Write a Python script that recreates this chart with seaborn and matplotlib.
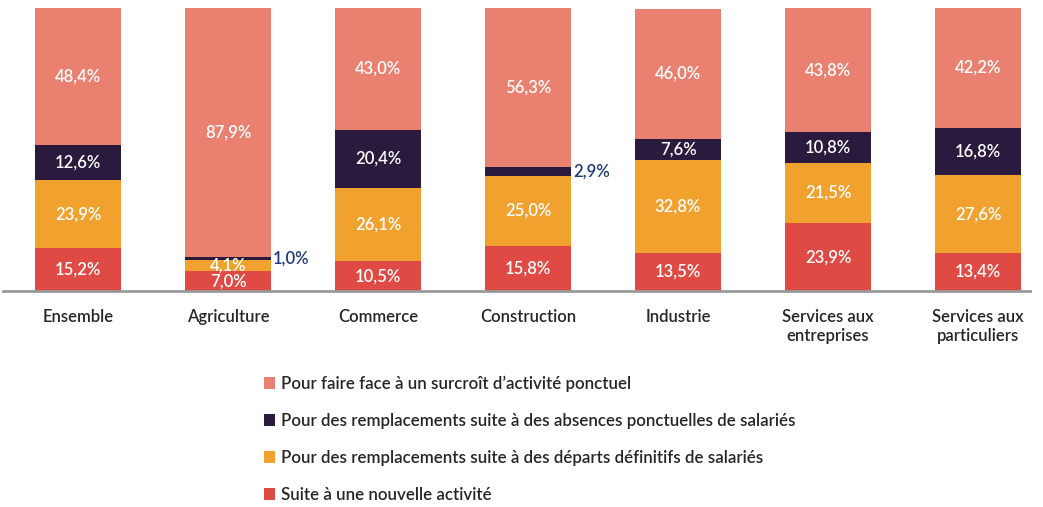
import numpy as np
import pandas as pd
import matplotlib
matplotlib.use("Agg")
import matplotlib.pyplot as plt
import seaborn as sns
from matplotlib.patches import Patch

secteurs = ["Ensemble", "Agriculture", "Commerce", "Construction", "Industrie",
            "Services aux\nentreprises", "Services aux\nparticuliers"]
nouvelle = [15.2, 7.0, 10.5, 15.8, 13.5, 23.9, 13.4]
departs = [23.9, 4.1, 26.1, 25.0, 32.8, 21.5, 27.6]
absences = [12.6, 1.0, 20.4, 2.9, 7.6, 10.8, 16.8]
surcroit = [48.4, 87.9, 43.0, 56.3, 46.0, 43.8, 42.2]

series = ["Suite à une nouvelle activité",
          "Pour des remplacements suite à des départs définitifs de salariés",
          "Pour des remplacements suite à des absences ponctuelles de salariés",
          "Pour faire face à un surcroît d\u2019activité ponctuel"]
couleurs = ["#E04A45", "#F0A12E", "#2A1A3E", "#E98070"]

sns.set_style("white")
plt.rcParams["font.family"] = ["Lato", "DejaVu Sans"]

df = pd.DataFrame({"secteur": secteurs, series[0]: nouvelle, series[1]: departs,
                   series[2]: absences, series[3]: surcroit})
valeurs = df[series].to_numpy()
cumul = np.cumsum(valeurs, axis=1)

fig = plt.figure(figsize=(10.43, 5.07), dpi=100)
ax = fig.add_axes([3 / 1043, 1 - 291 / 507, 1027 / 1043, 283 / 507])

# barres empilées : on trace les cumuls du plus haut au plus bas
for j in range(3, -1, -1):
    tmp = pd.DataFrame({"secteur": secteurs, "v": cumul[:, j]})
    sns.barplot(data=tmp, x="secteur", y="v", color=couleurs[j], width=0.573,
                saturation=1, ax=ax, edgecolor="none")

# étiquettes
for i in range(len(secteurs)):
    for j in range(4):
        v = valeurs[i, j]
        centre = cumul[i, j] - v / 2
        txt = f"{v:.1f}%".replace(".", ",")
        if v < 3.5 and j == 2:
            ax.text(i + 0.3, centre, txt, ha="left", va="center", color="#1F3A78",
                    fontsize=12, fontweight="semibold")
        else:
            ax.text(i, centre, txt, ha="center", va="center", color="white",
                    fontsize=12, fontweight="semibold")

ax.set_xlim(-0.5, 6.347)
ax.set_ylim(0, 100.1)
ax.set_xlabel("")
ax.set_ylabel("")
ax.set_yticks([])
ax.tick_params(axis="x", length=0, pad=13, labelsize=12)
for lab in ax.get_xticklabels():
    lab.set_fontweight("semibold")
for s in ["top", "right", "left"]:
    ax.spines[s].set_visible(False)
ax.spines["bottom"].set_color("#9A9A9A")
ax.spines["bottom"].set_linewidth(2)

handles = [Patch(facecolor=couleurs[j], edgecolor="none") for j in range(3, -1, -1)]
labels = [series[j] for j in range(3, -1, -1)]
leg = fig.legend(handles, labels, loc="upper left", bbox_to_anchor=(257 / 1043, 1 - 369 / 507),
                 frameon=False, fontsize=12.2, handlelength=0.66, handleheight=0.66,
                 handletextpad=0.35, labelspacing=1.24, borderaxespad=0)
for t in leg.get_texts():
    t.set_fontweight("semibold")

fig.savefig("out.png", dpi=100)
